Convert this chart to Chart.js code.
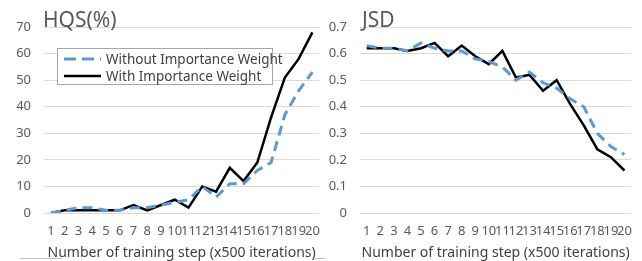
<!DOCTYPE html>
<html><head><meta charset="utf-8">
<script src="https://cdn.jsdelivr.net/npm/chart.js@4.4.1/dist/chart.umd.min.js"></script>
<style>
html,body{margin:0;padding:0;background:#fff;}
body{width:642px;height:261px;position:relative;overflow:hidden;font-family:"Noto Sans",sans-serif;}
canvas{position:absolute;top:0;}
.ttl{position:absolute;color:#595959;font-size:21px;line-height:1;}
#legend{position:absolute;left:57px;top:48px;width:214px;height:35px;border:1px solid #a6a6a6;background:#fff;font-size:13.5px;color:#404040;}
.lrow{position:absolute;left:6px;height:17px;display:flex;align-items:center;white-space:nowrap;}
.lrow svg{margin-right:5px;}
.edge{position:absolute;height:0;border-top:1px solid #bfbfbf;}
</style></head>
<body>
<div id="wrapL" style="position:absolute;left:0;top:0;width:330px;height:261px;"><canvas id="cL"></canvas></div>
<div id="wrapR" style="position:absolute;left:320px;top:0;width:322px;height:261px;"><canvas id="cR"></canvas></div>
<div class="ttl" id="tL" style="left:43px;top:9px;">HQS(%)</div>
<div class="ttl" id="tR" style="left:362px;top:9px;">JSD</div>
<div id="legend">
  <div class="lrow" style="top:1px;"><svg width="37" height="6"><line x1="0" y1="3" x2="37" y2="3" stroke="#5b9bd5" stroke-width="3" stroke-dasharray="12,6"/></svg><span>Without Importance Weight</span></div>
  <div class="lrow" style="top:18px;"><svg width="37" height="6"><line x1="0" y1="3" x2="37" y2="3" stroke="#000" stroke-width="2.5"/></svg><span>With Importance Weight</span></div>
</div>
<div class="edge" style="left:20px;top:258px;width:42px;"></div>
<div class="edge" style="left:315px;top:258px;width:10px;"></div>

<script>
const steps = ["1","2","3","4","5","6","7","8","9","10","11","12","13","14","15","16","17","18","19","20"];
const hqsWithout = [0,1,2,2,1,1,2,2,3,4,5,10,6,11,11,16,19,37,46,53];
const hqsWith    = [0,1,1,1,1,1,3,1,3,5,2,10,8,17,12,19,36,51,58,68];
const jsdWithout = [0.63,0.62,0.62,0.61,0.64,0.62,0.61,0.61,0.58,0.57,0.55,0.50,0.53,0.49,0.47,0.43,0.40,0.30,0.25,0.22];
const jsdWith    = [0.62,0.62,0.62,0.61,0.62,0.64,0.59,0.63,0.59,0.56,0.61,0.51,0.52,0.46,0.50,0.41,0.33,0.24,0.21,0.16];
const seriesNames = ["Without Importance Weight","With Importance Weight"];
const xTitle = "Number of training step (x500 iterations)";

const FONT = "'Noto Sans', sans-serif";
function makeChart(id, a, b, yMax, yStep, yWidth, padRight, fmt){
  return new Chart(document.getElementById(id), {
    type:'line',
    data:{labels:steps, datasets:[
      {label:seriesNames[0], data:a, borderColor:'#5b9bd5', borderWidth:3, borderDash:[10,6], pointRadius:0, fill:false, tension:0},
      {label:seriesNames[1], data:b, borderColor:'#000000', borderWidth:2.5, pointRadius:0, fill:false, tension:0}
    ]},
    options:{
      responsive:true, maintainAspectRatio:false, animation:false,
      layout:{padding:{top:27,right:padRight,bottom:0,left:0}},
      plugins:{legend:{display:false}, tooltip:{enabled:false}},
      scales:{
        x:{offset:true, grid:{display:false, drawTicks:false}, border:{display:false},
           afterFit:(s)=>{s.height=48;},
           ticks:{autoSkip:false, maxRotation:0, minRotation:0, padding:10, color:'#595959', font:{family:FONT, size:13}},
           title:{display:true, text:xTitle, color:'#404040', font:{family:FONT, size:14}, padding:{top:3,bottom:0}}},
        y:{min:0, max:yMax, grid:{color:'#d9d9d9', drawTicks:false, lineWidth:1}, border:{display:false},
           afterFit:(s)=>{s.width=yWidth;},
           ticks:{stepSize:yStep, padding:13, color:'#595959', font:{family:FONT, size:13}, callback:fmt}}
      }
    }
  });
}
makeChart('cL', hqsWithout, hqsWith, 70, 10, 44, 7, v=>String(v));
makeChart('cR', jsdWithout, jsdWith, 0.7, 0.1, 40, 5, v=>String(Math.round(v*10)/10));
</script>
</body></html>
